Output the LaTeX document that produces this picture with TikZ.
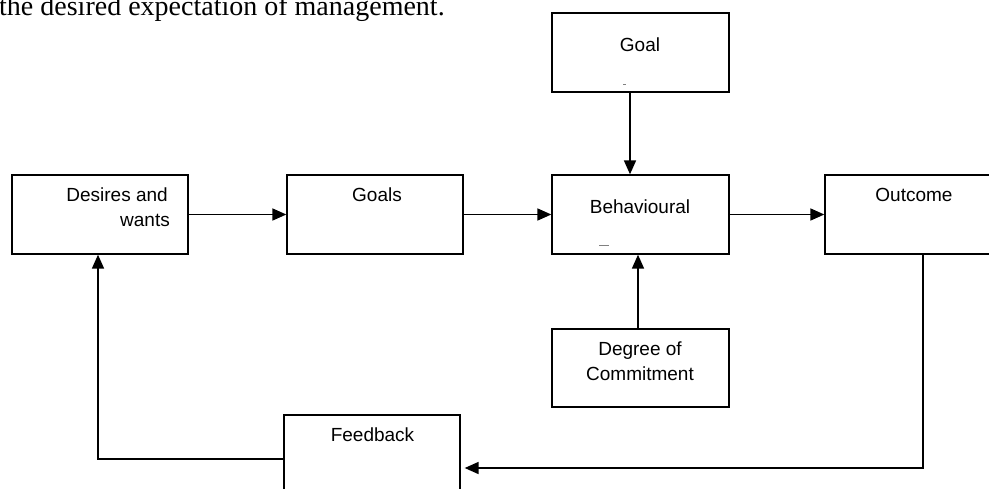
\documentclass[tikz,border=0pt]{standalone}
\usepackage{fontspec}
\setmainfont{Liberation Sans}
\newfontfamily\bodyserif{Liberation Serif}
\usetikzlibrary{arrows.meta}
\begin{document}
\begin{tikzpicture}[x=1pt,y=-1pt,
  box/.style={draw, line width=1.3pt, inner sep=0pt, rectangle},
  lbl/.style={font=\fontsize{19}{21}\selectfont, inner sep=0pt, anchor=base},
  arr/.style={line width=1.7pt, -{Triangle[length=14pt,width=12pt]}},
  tinydash/.style={draw=gray, line width=0.8pt}]
\useasboundingbox (0,0) rectangle (989,488);
\fill[white] (0,0) rectangle (989,488);

% cut-off body text at the top
\node[anchor=base west, inner sep=0pt, font=\bodyserif\fontsize{28}{30}\selectfont] (bodytext) at (-1,15) {the desired expectation of management.};

% boxes
\node[box, minimum width=176pt, minimum height=79pt] (desires) at (100,214.5) {};
\node[box, minimum width=176pt, minimum height=79pt] (goals) at (375,214.5) {};
\node[box, minimum width=177pt, minimum height=79pt] (behav) at (640.5,214.5) {};
\node[box, minimum width=175pt, minimum height=79pt] (outcome) at (912.5,214.5) {};
\node[box, minimum width=177pt, minimum height=79pt] (goal) at (640.5,52.5) {};
\node[box, minimum width=177pt, minimum height=78pt] (degree) at (640.5,368) {};
\node[box, minimum width=176pt, minimum height=79pt] (feedback) at (372,454.5) {};

% labels
\node[lbl, anchor=base east] (tdes1) at (168,201.7) {Desires and};
\node[lbl, anchor=base east] (tdes2) at (170,226.7) {wants};
\node[lbl] (tgoals) at (377,201.7) {Goals};
\node[lbl] (tbeh) at (640,213.3) {Behavioural};
\node[lbl] (tout) at (914,201.7) {Outcome};
\node[lbl] (tgoal) at (640,51.7) {Goal};
\node[lbl] (tdeg1) at (640,355) {Degree of};
\node[lbl] (tdeg2) at (640,380) {Commitment};
\node[lbl] (tfb) at (372.5,441.7) {Feedback};

% tiny marks
\coordinate (m1a) at (623,84); \coordinate (m1b) at (626,84);
\draw[tinydash] (m1a) -- (m1b);
\coordinate (m2a) at (599,245.7); \coordinate (m2b) at (609,245.7);
\draw[tinydash] (m2a) -- (m2b);

% connectors
\draw[arr] (desires.east) -- (goals.west);
\draw[arr] (goals.east) -- (behav.west);
\draw[arr] (behav.east) -- (outcome.west);
\coordinate (gx) at (630,0);
\draw[arr] (goal.south -| gx) -- (behav.north -| gx);
\coordinate (dx) at (638,0);
\draw[arr] (degree.north -| dx) -- (behav.south -| dx);
\coordinate (ox) at (923,468);
\draw[arr] (outcome.south -| ox) -- (ox) -- ([xshift=4pt]feedback.east |- ox);
\coordinate (fx) at (98,459);
\draw[arr] (feedback.west |- fx) -- (fx) -- (desires.south -| fx);
\end{tikzpicture}
\end{document}
